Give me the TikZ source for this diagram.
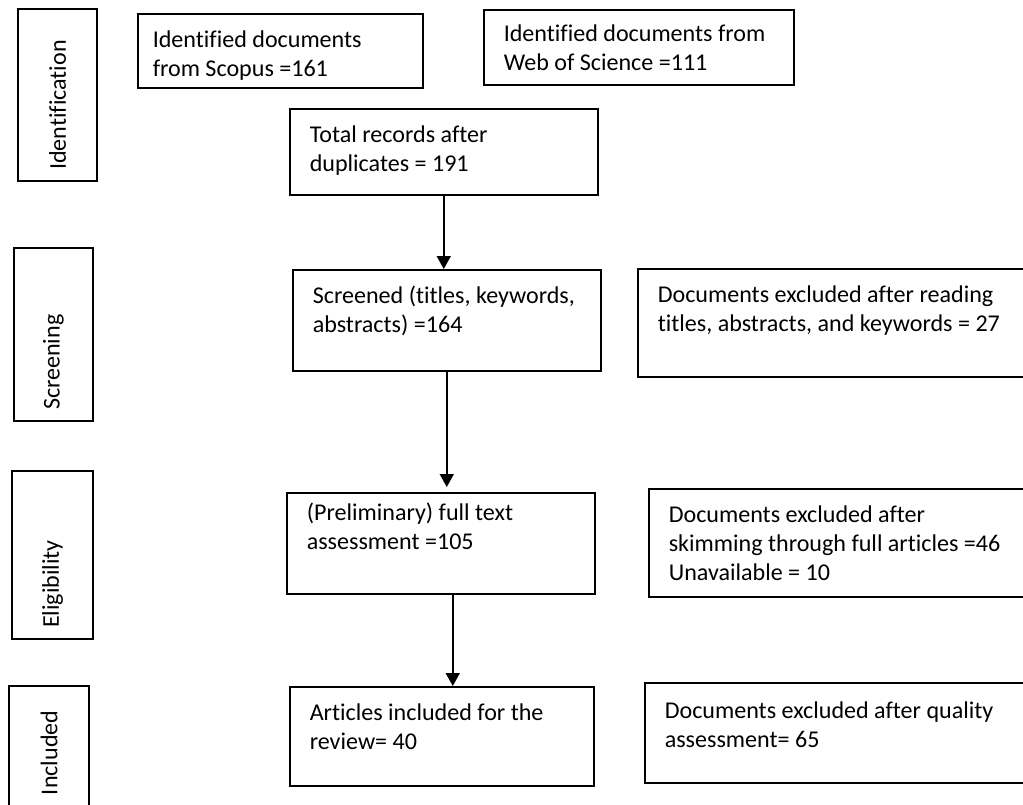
\documentclass[tikz,border=0pt]{standalone}
\usepackage{fontspec}
\setmainfont{Carlito}[Ligatures=CommonOff]
\usetikzlibrary{arrows.meta}

\newcommand{\boxtext}[4]{\parbox[c][#2][t]{#1}{\vspace*{#3}\strut #4}}

\begin{document}
\begin{tikzpicture}[x=0.02cm, y=-0.02cm,
    flowbox/.style={draw, line width=0.9pt, anchor=north west, inner xsep=0.4cm, inner ysep=0pt, font=\fontsize{13.7pt}{16.4pt}\selectfont},
    stagebox/.style={draw, line width=0.9pt, rotate=90, align=left, inner xsep=0.22cm, font=\fontsize{13.7pt}{16.4pt}\selectfont},
    flowarrow/.style={line width=0.9pt, -{Triangle[length=0.26cm, width=0.28cm]}}]

\useasboundingbox (0,0) rectangle (1023,804);

\node[stagebox, text width=3.0cm, minimum height=1.58cm] (idlabel) at (57.5,95) {Identification};
\node[stagebox, text width=3.02cm, minimum height=1.58cm] (screenlabel) at (53.5,334.5) {Screening};
\node[stagebox, text width=2.92cm, minimum height=1.62cm] (eliglabel) at (52.5,555) {Eligibility};
\node[stagebox, text width=1.96cm, minimum height=1.60cm] (incllabel) at (49,746) {Included};

\node[flowbox, inner xsep=0.3cm] (scopus) at (137,13) {\boxtext{5.1cm}{1.48cm}{0.28cm}{Identified documents\\from Scopus =161}};
\node[flowbox, inner xsep=0.3cm] (wos) at (483,9) {\boxtext{5.6cm}{1.5cm}{0.24cm}{\hspace*{0.1cm}Identified documents from\\\hspace*{0.1cm}Web of Science =111}};
\node[flowbox] (total) at (289,108) {\boxtext{5.36cm}{1.72cm}{0.28cm}{Total records after\\duplicates = 191}};

\node[flowbox] (screened) at (292,269) {\boxtext{5.36cm}{2.02cm}{0.28cm}{Screened (titles, keywords,\\abstracts) =164}};
\node[flowbox] (excltitle) at (637,268) {\boxtext{7.06cm}{2.16cm}{0.28cm}{Documents excluded after reading\\titles, abstracts, and keywords = 27}};

\node[flowbox] (fulltext) at (286,492) {\boxtext{5.36cm}{2.02cm}{0.16cm}{(Preliminary) full text\\assessment =105}};
\node[flowbox] (exclfull) at (648,488) {\boxtext{6.84cm}{2.16cm}{0.28cm}{Documents excluded after\\skimming through full articles =46\\Unavailable = 10}};

\node[flowbox] (included) at (289,686) {\boxtext{5.28cm}{1.98cm}{0.28cm}{Articles included for the\\review= 40}};
\node[flowbox] (exclqual) at (644,682) {\boxtext{6.92cm}{2cm}{0.32cm}{Documents excluded after quality\\assessment= 65}};

\draw[flowarrow] (total.south) -- (total.south |- screened.north);
\draw[flowarrow, shorten >=0.1cm] (screened.south) -- (screened.south |- fulltext.north);
\draw[flowarrow] ([xshift=0.24cm]fulltext.south) -- ([xshift=0.24cm]fulltext.south |- included.north);

\end{tikzpicture}
\end{document}
